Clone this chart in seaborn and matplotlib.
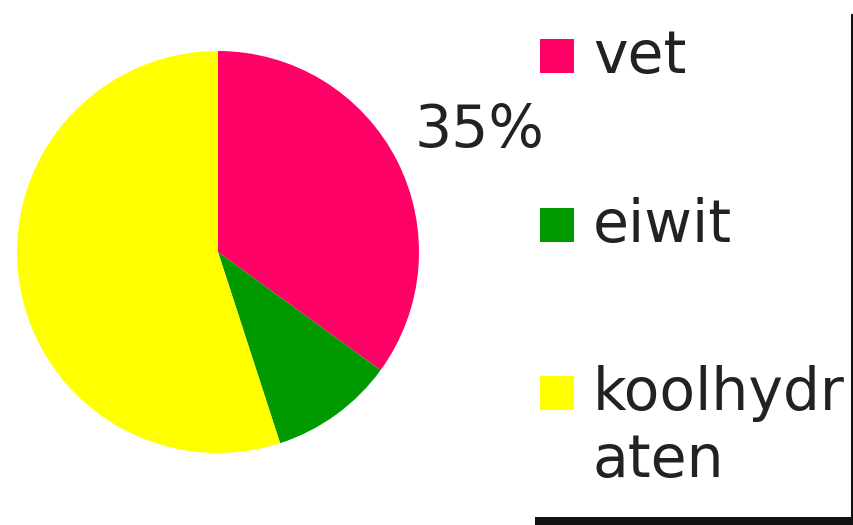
import textwrap

import matplotlib
matplotlib.use("Agg")
import matplotlib.pyplot as plt
from matplotlib.patches import Rectangle
import seaborn as sns

# Energy share per nutrient (percent)
categories = ["vet", "eiwit", "koolhydraten"]
values = [35, 10, 55]
colors = ["#FF0066", "#009900", "#FFFF00"]
labelled = ["vet"]

sns.set_theme(style="white")
plt.rcParams["font.family"] = ["DejaVu Sans"]

W, H = 854, 525
fig = plt.figure(figsize=(W / 100, H / 100), dpi=100)
fig.patch.set_facecolor("white")


def fx(x):
    return x / W


def fy(y):
    return 1 - y / H


# Pie axes: centre (218, 252) px, radius 201 px
cx, cy, r = 218, 252, 201
ax = fig.add_axes([fx(cx - r), fy(cy + r), 2 * r / W, 2 * r / H])
pie_labels = [f"{v}%" if c in labelled else "" for c, v in zip(categories, values)]
wedges, texts = ax.pie(
    values,
    colors=colors,
    labels=pie_labels,
    labeldistance=1.46,
    startangle=90,
    counterclock=False,
    wedgeprops=dict(linewidth=0),
    textprops=dict(fontsize=42, color="#222222"),
)
for t in texts:
    t.set_horizontalalignment("center")
    t.set_verticalalignment("center_baseline")
    x, y = t.get_position()
    t.set_position((x, y - 0.03))
ax.set_xlim(-1, 1)
ax.set_ylim(-1, 1)
ax.set_aspect("auto")
ax.axis("off")

# Legend: coloured squares with wrapped labels
text_x = 593
baselines = [73, 242, 410]
line_step = 67
for c, col, base in zip(categories, colors, baselines):
    sq = 34
    fig.add_artist(Rectangle((fx(540), fy(base)), sq / W, sq / H,
                             transform=fig.transFigure, facecolor=col,
                             edgecolor="none"))
    lines = textwrap.wrap(c, 8, break_long_words=True)
    for k, ln in enumerate(lines):
        fig.text(fx(text_x), fy(base + k * line_step), ln, fontsize=42,
                 color="#222222", ha="left", va="baseline")

# Legend frame (right and bottom edges visible)
fig.add_artist(Rectangle((fx(851), fy(525)), 3 / W, (525 - 14) / H,
                         transform=fig.transFigure, facecolor="#111111",
                         edgecolor="none"))
fig.add_artist(Rectangle((fx(535), fy(525)), (854 - 535) / W, 8 / H,
                         transform=fig.transFigure, facecolor="#111111",
                         edgecolor="none"))

fig.savefig("out.png", dpi=100)
